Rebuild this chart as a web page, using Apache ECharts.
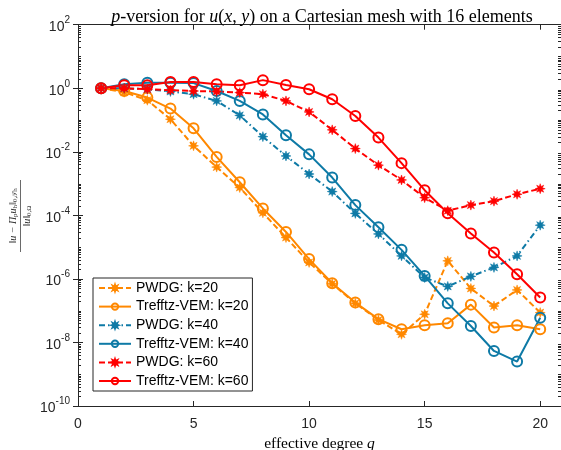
<!DOCTYPE html>
<html>
<head>
<meta charset="utf-8">
<script src="https://cdn.jsdelivr.net/npm/echarts@6/dist/echarts.min.js"></script>
<style>html,body{margin:0;padding:0;background:#fff;}#c{width:561px;height:450px;}</style>
</head>
<body>
<div id="c"></div>
<script>
const q = [1,2,3,4,5,6,7,8,9,10,11,12,13,14,15,16,17,18,19,20];
const pwdg20 = [1.0, 0.75, 0.42, 0.106, 0.0154, 0.0033, 7.5e-4, 1.2e-4, 2e-5, 3.3e-6, 7e-7, 1.7e-7, 5.1e-8, 1.8e-8, 7.7e-8, 3.7e-6, 5e-7, 1.4e-7, 4.5e-7, 8.7e-8];
const vem20 = [1.0, 0.82, 0.51, 0.23, 0.055, 0.0069, 1.1e-3, 1.65e-4, 3e-5, 4.2e-6, 7.3e-7, 1.8e-7, 5.4e-8, 2.6e-8, 3.5e-8, 4e-8, 1.55e-7, 2.95e-8, 3.5e-8, 2.6e-8];
const pwdg40 = [1.0, 1.0, 0.93, 0.79, 0.65, 0.4, 0.14, 0.03, 0.0074, 2e-3, 5.6e-4, 1.15e-4, 2.6e-5, 5.3e-6, 1.1e-6, 5.8e-7, 1.2e-6, 2.3e-6, 5.3e-6, 4.9e-5];
const vem40 = [1.0, 1.34, 1.5, 1.5, 1.45, 0.82, 0.4, 0.15, 0.033, 0.0083, 1.55e-3, 2.1e-4, 4.2e-5, 8.2e-6, 1.24e-6, 1.7e-7, 3.3e-8, 5.4e-9, 2.5e-9, 6e-8];
const pwdg60 = [1.0, 1.0, 0.93, 0.87, 0.82, 0.79, 0.73, 0.65, 0.4, 0.18, 0.049, 0.0126, 3.8e-3, 1.3e-3, 3.6e-4, 1.4e-4, 2.1e-4, 2.8e-4, 4.6e-4, 6.9e-4];
const vem60 = [1.0, 1.24, 1.24, 1.58, 1.58, 1.34, 1.24, 1.8, 1.27, 0.93, 0.45, 0.134, 0.028, 4.4e-3, 6.2e-4, 1.17e-4, 2.7e-5, 6.8e-6, 1.4e-6, 2.6e-7];
const xTicks = [0, 5, 10, 15, 20];
const yExps = [-10, -8, -6, -4, -2, 0, 2];

const ORANGE = '#FF8800', BLUE = '#0E7AA6', RED = '#FF0000', AX = '#262626';
const XMIN = 0, XMAX = 20.9, YMIN = 1e-10, YMAX = 1e2;

function starPath(n, rO, rI) {
  let d = '';
  for (let i = 0; i < 2 * n; i++) {
    const r = i % 2 === 0 ? rO : rI;
    const a = Math.PI * i / n - Math.PI / 2;
    const x = 50 + r * Math.cos(a), y = 50 + r * Math.sin(a);
    d += (i === 0 ? 'M' : 'L') + x.toFixed(2) + ' ' + y.toFixed(2) + ' ';
  }
  return 'path://' + d + 'Z';
}
const STAR = starPath(8, 50, 24);

function pairs(arr) { return q.map((x, i) => [x, arr[i]]); }

const minorVals = [];
for (let e = -10; e < 2; e++) {
  for (let m = 2; m <= 9; m++) minorVals.push(m * Math.pow(10, e));
  if (((e + 1) % 2) !== 0) minorVals.push(Math.pow(10, e + 1));
}

function lineSeries(name, data, color, dashed, isStar) {
  return {
    name, type: 'line', data: pairs(data),
    xAxisIndex: 0, yAxisIndex: 0,
    lineStyle: { color, width: 2, type: dashed || 'solid' },
    symbol: isStar ? STAR : 'circle',
    symbolSize: 10,
    itemStyle: isStar ? { color, borderColor: color, borderWidth: 0.5 }
                      : { color: 'rgba(255,255,255,0)', borderColor: color, borderWidth: 2 },
    emphasis: { disabled: true },
    animation: false
  };
}

const chart = echarts.init(document.getElementById('c'), null, { renderer: 'canvas' });
const supFmt = v => {
  const e = Math.round(Math.log10(v));
  if (yExps.indexOf(e) < 0) return '';
  return '{b|10}{s|' + e + '}';
};

const option = {
  animation: false,
  backgroundColor: '#fff',
  title: {
    text: '{i|p}-version for {i|u}({i|x}, {i|y}) on a Cartesian mesh with 16 elements',
    left: 317, top: 3, textAlign: 'center',
    textStyle: {
      fontFamily: 'Liberation Serif', fontSize: 18, fontWeight: 'normal', color: '#000',
      rich: { i: { fontFamily: 'Liberation Serif', fontStyle: 'italic', fontSize: 18, color: '#000' } }
    }
  },
  grid: { left: 78, right: 0, top: 24.7, bottom: 44, containLabel: false, outerBoundsMode: 'none' },
  legend: {
    orient: 'vertical', left: 93, top: 278,
    data: ['PWDG: k=20', 'Trefftz-VEM: k=20', 'PWDG: k=40', 'Trefftz-VEM: k=40', 'PWDG: k=60', 'Trefftz-VEM: k=60'],
    backgroundColor: '#fff', borderColor: AX, borderWidth: 1, borderRadius: 0,
    padding: [3, 4, 3, 5], itemWidth: 32, itemHeight: 8, itemGap: 4.6,
    textStyle: { fontFamily: 'Liberation Sans', fontSize: 14, color: '#000', lineHeight: 14 },
    selectedMode: false
  },
  xAxis: [
    { type: 'value', min: XMIN, max: XMAX, interval: 5, position: 'bottom',
      axisLine: { show: true, lineStyle: { color: AX, width: 1 } },
      axisTick: { show: true, inside: true, length: 5, lineStyle: { color: AX } },
      axisLabel: { margin: 11, color: AX, fontFamily: 'Liberation Sans', fontSize: 14,
        formatter: v => (xTicks.indexOf(v) >= 0 ? String(v) : '') },
      splitLine: { show: false },
      name: '{t|effective degree }{i|q}', nameLocation: 'middle', nameGap: 28,
      nameTextStyle: { fontFamily: 'Liberation Serif', fontSize: 15, color: '#000',
        rich: { t: { fontFamily: 'Liberation Serif', fontSize: 15.5, color: '#000' },
                i: { fontFamily: 'Liberation Serif', fontStyle: 'italic', fontSize: 15.5, color: '#000' } } }
    },
    { type: 'value', min: XMIN, max: XMAX, interval: 5, position: 'top',
      axisLine: { show: true, lineStyle: { color: AX, width: 1 } },
      axisTick: { show: true, inside: true, length: 5, lineStyle: { color: AX } },
      axisLabel: { show: false }, splitLine: { show: false }
    }
  ],
  yAxis: [
    { type: 'log', logBase: 10, min: YMIN, max: YMAX, interval: 2, position: 'left',
      axisLine: { show: true, lineStyle: { color: AX, width: 1 } },
      axisTick: { show: true, inside: true, length: 5, lineStyle: { color: AX } },
      axisLabel: { margin: 8, color: AX, formatter: supFmt,
        rich: { b: { fontFamily: 'Liberation Sans', fontSize: 14, color: AX, verticalAlign: 'bottom' },
                s: { fontFamily: 'Liberation Sans', fontSize: 10, color: AX, verticalAlign: 'top', padding: [0, 0, 9, 0] } } },
      splitLine: { show: false }
    },
    { type: 'log', logBase: 10, min: YMIN, max: YMAX, interval: 2, position: 'right',
      axisLine: { show: true, lineStyle: { color: AX, width: 1 } },
      axisTick: { show: true, inside: true, length: 5, lineStyle: { color: AX } },
      axisLabel: { show: false }, splitLine: { show: false }
    }
  ],
  series: [
    lineSeries('PWDG: k=20', pwdg20, ORANGE, [6, 3], true),
    lineSeries('Trefftz-VEM: k=20', vem20, ORANGE, 'solid', false),
    lineSeries('PWDG: k=40', pwdg40, BLUE, [6, 3, 1.5, 3], true),
    lineSeries('Trefftz-VEM: k=40', vem40, BLUE, 'solid', false),
    lineSeries('PWDG: k=60', pwdg60, RED, [6, 3], true),
    lineSeries('Trefftz-VEM: k=60', vem60, RED, 'solid', false)
  ]
};
chart.setOption(option);

// y-axis label (fraction) and log minor ticks placed through the chart's own scale
const graphics = [
  { type: 'group', x: 20.5, y: 216, rotation: Math.PI / 2, silent: true,
    children: [
      { type: 'text', x: 0, y: -7, style: {
          text: '{t|‖u − Π}{s|p}{t|u}{s|h}{t|‖}{s|0,𝒯h}',
          align: 'center', verticalAlign: 'middle',
          rich: { t: { fontFamily: 'Liberation Serif', fontSize: 10, fontStyle: 'italic', fill: '#333' },
                  s: { fontFamily: 'Liberation Serif', fontSize: 7, fill: '#333', verticalAlign: 'bottom', padding: [4, 0, 0, 0] } } } },
      { type: 'line', shape: { x1: -36, y1: 0, x2: 36, y2: 0 }, style: { stroke: '#444', lineWidth: 0.8 } },
      { type: 'text', x: 0, y: 7, style: {
          text: '{t|‖u‖}{s|0,Ω}',
          align: 'center', verticalAlign: 'middle',
          rich: { t: { fontFamily: 'Liberation Serif', fontSize: 10, fontStyle: 'italic', fill: '#333' },
                  s: { fontFamily: 'Liberation Serif', fontSize: 7, fill: '#333', verticalAlign: 'bottom', padding: [4, 0, 0, 0] } } } }
    ] }
];
minorVals.forEach(v => {
  const p1 = chart.convertToPixel({ xAxisIndex: 0, yAxisIndex: 0 }, [XMIN, v]);
  const p2 = chart.convertToPixel({ xAxisIndex: 0, yAxisIndex: 0 }, [XMAX, v]);
  if (!p1 || !p2) return;
  const y1 = Math.round(p1[1]) + 0.5, y2 = Math.round(p2[1]) + 0.5;
  graphics.push({ type: 'line', silent: true, z: 10, shape: { x1: p1[0], y1, x2: p1[0] + 3, y2: y1 }, style: { stroke: AX, lineWidth: 1 } });
  graphics.push({ type: 'line', silent: true, z: 10, shape: { x1: p2[0], y1: y2, x2: p2[0] - 3, y2 }, style: { stroke: AX, lineWidth: 1 } });
});
chart.setOption({ graphic: graphics });
</script>
</body>
</html>
